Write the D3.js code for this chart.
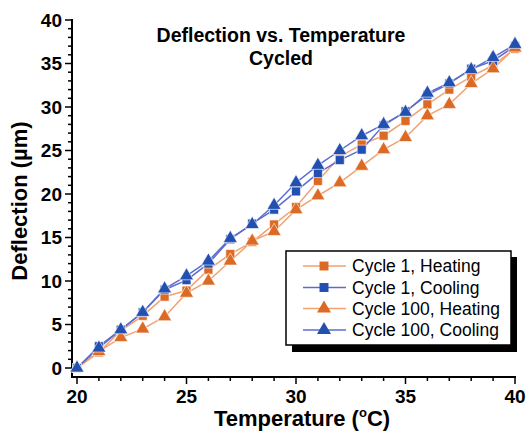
<!DOCTYPE html>
<html>
<head>
<meta charset="utf-8">
<script src="https://cdn.jsdelivr.net/npm/d3@7"></script>
<style>
  body { margin: 0; background: #fff; }
  text { font-family: "Liberation Sans", Arial, sans-serif; }
</style>
</head>
<body>
<div id="chart"></div>
<script>
// =============================================================================
// data
// =============================================================================
var temperature = [20, 21, 22, 23, 24, 25, 26, 27, 28, 29, 30, 31, 32, 33, 34, 35, 36, 37, 38, 39, 40];
var cycle1Heating = [0, 1.8, 4.3, 6.0, 8.2, 8.9, 11.3, 13.1, 14.5, 16.5, 18.5, 21.5, 24.3, 25.7, 26.7, 28.4, 30.3, 32.0, 33.5, 34.8, 36.7];
var cycle1Cooling = [0, 2.5, 4.4, 6.4, 9.0, 10.1, 12.0, 14.8, 16.6, 18.2, 20.3, 22.4, 23.9, 25.1, 27.9, 29.5, 31.4, 32.7, 34.4, 35.3, 37.0];
var cycle100Heating = [0, 1.9, 3.5, 4.5, 5.9, 8.6, 10.0, 12.3, 14.6, 15.7, 18.2, 19.8, 21.3, 23.2, 25.1, 26.5, 29.0, 30.3, 32.7, 34.4, 36.8];
var cycle100Cooling = [0, 2.3, 4.4, 6.4, 9.1, 10.6, 12.3, 14.9, 16.5, 18.7, 21.3, 23.3, 25.0, 26.7, 28.0, 29.4, 31.6, 32.8, 34.3, 35.7, 37.2];
var seriesNames = ["Cycle 1, Heating", "Cycle 1, Cooling", "Cycle 100, Heating", "Cycle 100, Cooling"];
var xTicks = [20, 25, 30, 35, 40];
var yTicks = [0, 5, 10, 15, 20, 25, 30, 35, 40];

// styles ======================================================================
var orange = "#dc6a24", orangeLine = "#f0a272";
var blue = "#2350b0", blueLine = "#5b6cd0";

var series = [
    { name: seriesNames[0], values: cycle1Heating, marker: d3.symbolSquare, fill: orange, line: orangeLine },
    { name: seriesNames[1], values: cycle1Cooling, marker: d3.symbolSquare, fill: blue, line: blueLine },
    { name: seriesNames[2], values: cycle100Heating, marker: d3.symbolTriangle, fill: orange, line: orangeLine },
    { name: seriesNames[3], values: cycle100Cooling, marker: d3.symbolTriangle, fill: blue, line: blueLine }
];

// =============================================================================
// chart
// =============================================================================
var width = 527, height = 431;

var svg = d3.select("#chart").append("svg")
    .attr("width", width)
    .attr("height", height);

var x = d3.scaleLinear().domain([20, 40]).range([77, 515]);
var y = d3.scaleLinear().domain([0, 40]).range([368, 20]);
var axisX = 72, axisY = 377;

// X axis
var gx = svg.append("g").attr("transform", "translate(0," + axisY + ")");
gx.append("line").attr("x1", axisX).attr("x2", x(40) + 1).attr("stroke", "#000").attr("stroke-width", 2);
gx.selectAll("line.minor").data(d3.range(20, 41)).enter().append("line")
    .attr("class", "minor")
    .attr("x1", function (d) { return x(d); }).attr("x2", function (d) { return x(d); })
    .attr("y1", 0).attr("y2", function (d) { return d % 5 === 0 ? 7 : 4; })
    .attr("stroke", "#000").attr("stroke-width", 1.5);
gx.selectAll("text").data(xTicks).enter().append("text")
    .attr("x", function (d) { return x(d); })
    .attr("y", 26)
    .attr("text-anchor", "middle")
    .attr("font-size", 19).attr("font-weight", "bold")
    .text(function (d) { return d; });

// Y axis
var gy = svg.append("g").attr("transform", "translate(" + axisX + ",0)");
gy.append("line").attr("y1", y(40) - 1).attr("y2", axisY + 1).attr("stroke", "#000").attr("stroke-width", 2);
gy.selectAll("line.minor").data(d3.range(0, 41)).enter().append("line")
    .attr("class", "minor")
    .attr("y1", function (d) { return y(d); }).attr("y2", function (d) { return y(d); })
    .attr("x1", 0).attr("x2", function (d) { return d % 5 === 0 ? -7 : -4; })
    .attr("stroke", "#000").attr("stroke-width", 1.5);
gy.selectAll("text").data(yTicks).enter().append("text")
    .attr("x", -10)
    .attr("y", function (d) { return y(d); })
    .attr("dy", "0.36em")
    .attr("text-anchor", "end")
    .attr("font-size", 19).attr("font-weight", "bold")
    .text(function (d) { return d; });

// axis labels
var xLabel = svg.append("text")
    .attr("x", 302).attr("y", 426)
    .attr("text-anchor", "middle")
    .attr("font-size", 22).attr("font-weight", "bold");
xLabel.append("tspan").text("Temperature (");
xLabel.append("tspan").attr("font-size", 13).attr("dy", -9).text("o");
xLabel.append("tspan").attr("dy", 9).text("C)");

svg.append("text")
    .attr("transform", "translate(27,201) rotate(-90)")
    .attr("text-anchor", "middle")
    .attr("font-size", 22).attr("font-weight", "bold")
    .text("Deflection (\u00b5m)");

// title
svg.append("text")
    .attr("x", 281).attr("y", 42)
    .attr("text-anchor", "middle")
    .attr("font-size", 19.5).attr("font-weight", "bold")
    .text("Deflection vs. Temperature");
svg.append("text")
    .attr("x", 281).attr("y", 65)
    .attr("text-anchor", "middle")
    .attr("font-size", 19.5).attr("font-weight", "bold")
    .text("Cycled");

// lines and markers
var line = d3.line()
    .x(function (d, i) { return x(temperature[i]); })
    .y(function (d) { return y(d); });

series.forEach(function (s) {
    svg.append("path")
        .attr("d", line(s.values))
        .attr("fill", "none")
        .attr("stroke", s.line)
        .attr("stroke-width", 1.5);
});

series.forEach(function (s) {
    var sym = d3.symbol().type(s.marker).size(s.marker === d3.symbolSquare ? 80 : 85);
    svg.append("g").selectAll("path").data(s.values).enter().append("path")
        .attr("transform", function (d, i) { return "translate(" + x(temperature[i]) + "," + y(d) + ")"; })
        .attr("d", sym)
        .attr("fill", s.fill)
        .attr("stroke", "#fff")
        .attr("stroke-opacity", 0.6)
        .attr("stroke-width", 1);
});

// legend
var legend = svg.append("g");
legend.append("rect")
    .attr("x", 292).attr("y", 257).attr("width", 225).attr("height", 95)
    .attr("fill", "#000");
legend.append("rect")
    .attr("x", 286).attr("y", 251).attr("width", 225).attr("height", 94)
    .attr("fill", "#fff").attr("stroke", "#000").attr("stroke-width", 1.5);

var rowY = [266, 287.5, 308.5, 330];
series.forEach(function (s, i) {
    legend.append("line")
        .attr("x1", 303).attr("x2", 346)
        .attr("y1", rowY[i]).attr("y2", rowY[i])
        .attr("stroke", s.line).attr("stroke-width", 1.5);
    legend.append("path")
        .attr("transform", "translate(324," + rowY[i] + ")")
        .attr("d", d3.symbol().type(s.marker).size(s.marker === d3.symbolSquare ? 80 : 85))
        .attr("fill", s.fill);
    legend.append("text")
        .attr("x", 352).attr("y", rowY[i])
        .attr("dy", "0.36em")
        .attr("font-size", 17.5)
        .text(s.name);
});
</script>
</body>
</html>
